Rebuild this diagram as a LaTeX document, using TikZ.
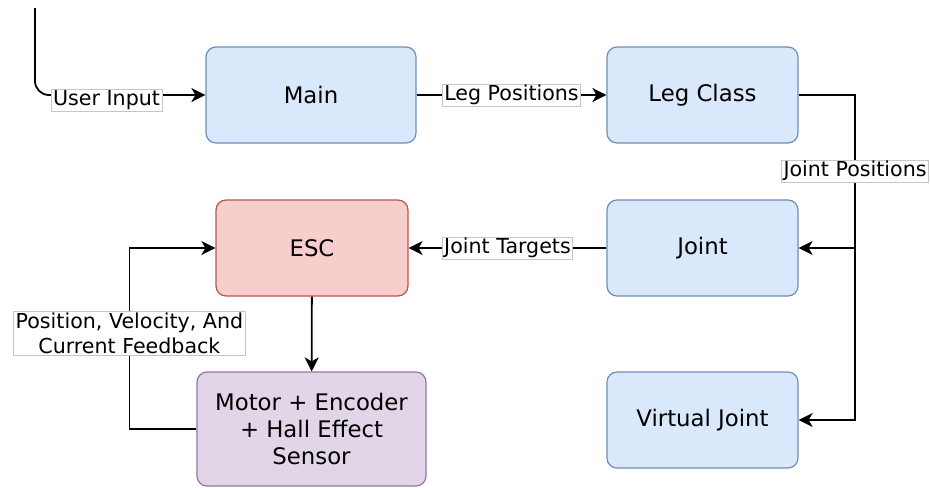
\documentclass[tikz,border=0pt]{standalone}
\usepackage{fontspec}
\setmainfont{DejaVu Sans}
\usepackage{xcolor}
\usepackage{tikz}
\usetikzlibrary{arrows.meta, positioning}

\definecolor{legfill}{HTML}{DAE8FC}
\definecolor{legdraw}{HTML}{6C8EBF}
\definecolor{escfill}{HTML}{F8CECC}
\definecolor{escdraw}{HTML}{B85450}
\definecolor{motorfill}{HTML}{E1D5E7}
\definecolor{motordraw}{HTML}{9673A6}

\begin{document}
\begin{tikzpicture}[
      x=0.5pt, y=-0.5pt,
      block/.style={rectangle, rounded corners=5pt, draw, line width=0.6pt, align=center,
        font=\fontsize{11.4}{13.3}\selectfont, minimum width=95.5pt, minimum height=48pt},
      leg box/.style={block, fill=legfill, draw=legdraw},
      esc box/.style={block, fill=escfill, draw=escdraw, minimum width=96pt},
      motor box/.style={block, fill=motorfill, draw=motordraw, minimum width=114.5pt, minimum height=57pt},
      lbl/.style={sharp corners, fill=white, draw=gray!45, line width=0.3pt, inner xsep=1pt, inner ysep=0.6pt,
        align=center, font=\fontsize{10.3}{12.5}\selectfont},
      conn/.style={line width=0.9pt, -{Stealth[length=7pt, width=7pt, inset=2pt]}}
    ]
      \useasboundingbox (0,0) rectangle (930,487);

      % blocks
      \node[leg box, minimum width=105pt] (main) at (311,95) {Main};
      \node[leg box] (leg) at (702.5,95) {Leg Class};
      \node[leg box] (joint) at (702.5,248) {Joint};
      \node[leg box] (vjoint) at (702.5,420) {Virtual Joint};
      \node[esc box] (esc) at (312,248) {ESC};
      \node[motor box] (motor) at (311.5,429) {Motor + Encoder\\+ Hall Effect\\Sensor};

      \coordinate (input) at (35,8);
      \coordinate (bus) at (855,95);

      % connectors
      \draw[conn, rounded corners=7pt] (input) |- node[lbl, pos=0.71, yshift=-2.5pt] {User Input} (main.west);
      \draw[conn] (main) -- node[lbl] {Leg Positions} (leg);
      \draw[conn] (leg.east) -- (bus) |- node[lbl, pos=0.117] {Joint Positions} (vjoint.east);
      \draw[conn] (joint.east -| bus) -- (joint.east);
      \draw[conn] (joint) -- node[lbl] {Joint Targets} (esc);
      \draw[conn] (esc) -- (motor);
      \draw[conn] (motor.west) -- ++(-67,0) |- node[lbl, pos=0.264] {Position, Velocity, And\\Current Feedback} (esc.west);
    \end{tikzpicture}
\end{document}
